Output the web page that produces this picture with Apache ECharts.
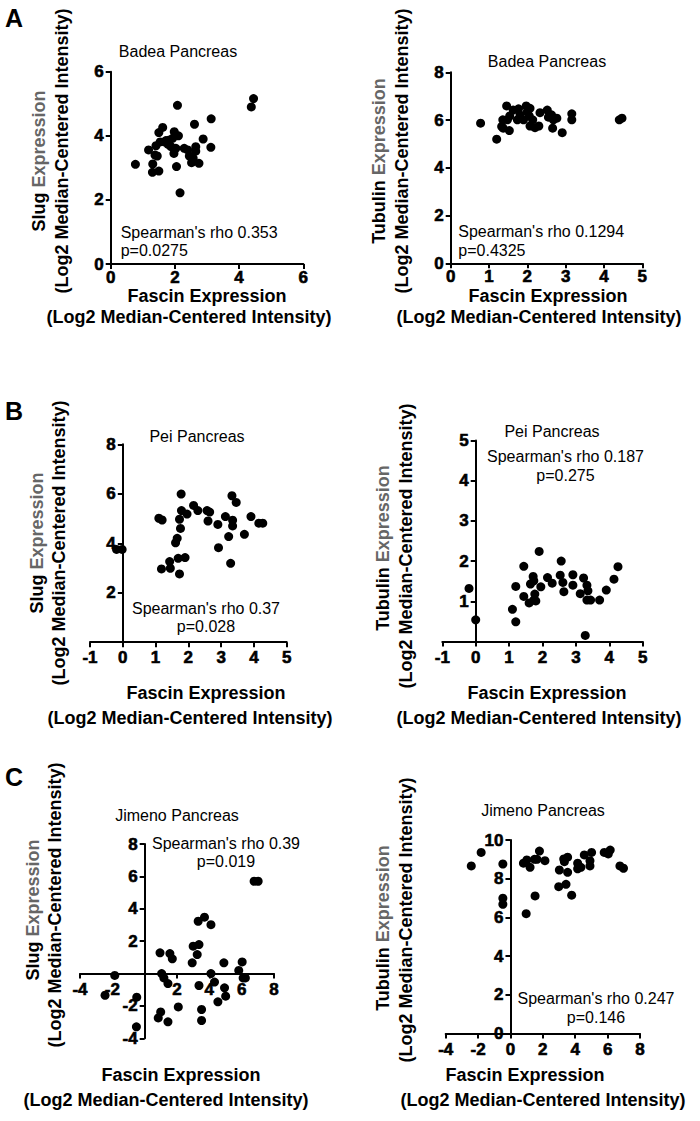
<!DOCTYPE html>
<html>
<head>
<meta charset="utf-8">
<script src="https://cdn.jsdelivr.net/npm/echarts@6/dist/echarts.min.js"></script>
<style>
html,body{margin:0;padding:0;background:#fff;}
#chart{width:700px;height:1121px;}
</style>
</head>
<body>
<div id="chart"></div>
<script>
// ---- data (Fascin expression, target expression) ----
const badeaSlug = [[0.77,3.11],[1.18,3.56],[1.31,3.12],[1.30,2.86],[1.38,3.40],[1.45,3.37],[1.41,3.69],[1.50,2.90],[1.50,4.10],[1.62,4.26],[1.54,3.81],[1.67,3.81],[1.72,3.85],[1.79,3.73],[1.83,3.87],[1.88,3.66],[1.93,3.92],[1.97,3.45],[1.98,4.13],[2.03,3.61],[2.05,3.04],[2.08,4.95],[2.11,4.00],[2.16,2.22],[2.29,3.61],[2.40,3.56],[2.45,3.37],[2.52,3.16],[2.57,3.30],[2.61,4.36],[2.65,3.66],[2.65,3.52],[2.75,3.14],[2.88,3.90],[3.13,4.53],[3.12,3.64],[4.38,4.90],[4.45,5.16]];
const badeaTubulin = [[0.78,5.87],[1.20,5.20],[1.33,5.73],[1.36,6.01],[1.37,5.66],[1.46,6.59],[1.48,6.01],[1.53,5.56],[1.54,6.17],[1.63,6.42],[1.77,6.47],[1.74,6.01],[1.81,6.22],[1.90,6.01],[1.97,6.59],[2.00,6.35],[2.05,6.17],[2.07,6.49],[2.07,5.75],[2.14,6.01],[2.20,5.68],[2.30,5.75],[2.33,6.31],[2.52,6.42],[2.55,6.12],[2.63,6.22],[2.68,6.01],[2.66,5.66],[2.77,6.08],[2.91,5.47],[3.16,6.26],[3.16,6.01],[4.40,6.01],[4.47,6.08]];
const peiSlug = [[-0.19,3.75],[-0.02,3.75],[1.10,5.01],[1.20,4.94],[1.18,2.96],[1.43,3.26],[1.45,2.99],[1.61,4.02],[1.66,4.20],[1.69,3.39],[1.73,2.76],[1.73,4.97],[1.76,4.60],[1.78,5.99],[1.79,5.32],[1.90,3.42],[1.96,5.18],[2.16,5.53],[2.29,5.32],[2.57,5.32],[2.65,5.26],[2.60,4.90],[2.90,4.76],[2.92,3.82],[3.13,5.08],[3.23,4.27],[3.29,3.19],[3.33,5.92],[3.35,4.93],[3.35,4.70],[3.46,5.65],[3.71,4.36],[3.91,5.08],[4.15,4.81],[4.27,4.81]];
const peiTubulin = [[-0.20,1.32],[0.0,0.54],[1.10,0.80],[1.20,0.49],[1.20,1.37],[1.44,1.87],[1.44,1.12],[1.60,0.96],[1.64,1.43],[1.72,1.62],[1.74,1.51],[1.74,1.03],[1.77,1.18],[1.80,1.01],[1.95,1.36],[1.90,2.24],[2.15,1.59],[2.29,1.45],[2.53,1.65],[2.56,2.00],[2.61,1.47],[2.64,1.24],[2.91,1.66],[2.91,1.40],[3.13,1.19],[3.23,1.58],[3.33,1.40],[3.36,1.26],[3.33,1.03],[3.44,1.03],[3.28,0.15],[3.71,1.03],[3.91,1.28],[4.14,1.55],[4.26,1.86]];
const jimenoSlug = [[-1.85,-0.12],[-2.45,-1.34],[-0.49,-1.46],[-0.51,-3.29],[0.95,1.28],[1.05,0.0],[1.19,-0.27],[1.44,-0.62],[0.84,-2.74],[0.99,-2.37],[1.44,-2.98],[1.56,1.23],[1.71,0.91],[2.08,-2.06],[2.94,0.66],[3.00,1.69],[3.25,1.17],[3.36,1.79],[3.31,3.23],[3.70,3.48],[4.10,3.02],[3.36,-0.74],[3.52,-2.22],[3.52,-2.90],[4.10,0.0],[4.32,-0.53],[4.53,-1.75],[4.90,0.66],[4.94,-0.88],[5.01,-1.40],[5.82,0.19],[6.03,0.72],[6.09,-0.27],[6.23,-0.27],[6.77,5.70],[7.02,5.70]];
const jimenoTubulin = [[-2.42,8.66],[-1.81,9.36],[-0.47,8.76],[-0.47,6.99],[-0.47,6.68],[0.80,8.80],[1.01,8.97],[0.97,6.19],[1.21,8.59],[1.48,9.00],[1.52,7.11],[1.64,9.00],[1.79,9.43],[2.13,8.93],[3.02,8.45],[2.98,7.59],[3.29,9.02],[3.33,8.88],[3.53,9.11],[3.43,7.71],[3.53,8.33],[3.78,7.15],[4.15,8.80],[4.15,8.51],[4.35,8.59],[4.56,9.23],[4.91,8.93],[4.91,8.66],[5.01,9.36],[5.79,9.36],[6.04,9.28],[6.16,9.48],[6.76,8.66],[6.98,8.54]];

// ---- axis ranges / ticks: [min, max, interval] ----
const xRanges = [[0,6,2],[0,5,1],[-1,5,1],[-1,5,1],[-4,8,2],[-4,8,2]];
const yRanges = [[0,6,2],[0,8,2],[0,8,2],[0,5,1],[-4,8,2],[0,10,2]];
const hideXZero = [false,false,false,false,true,false];
const hideYZero = [false,false,true,true,true,false];

// ---- texts ----
const panelTitles = ['Badea Pancreas','Badea Pancreas','Pei Pancreas','Pei Pancreas','Jimeno Pancreas','Jimeno Pancreas'];
const rhoTexts = ["Spearman's rho 0.353","Spearman's rho 0.1294","Spearman's rho 0.37","Spearman's rho 0.187","Spearman's rho 0.39","Spearman's rho 0.247"];
const pTexts = ['p=0.0275','p=0.4325','p=0.028','p=0.275','p=0.019','p=0.146'];
const yGenes = ['Slug','Tubulin','Slug','Tubulin','Slug','Tubulin'];
const panelLetters = ['A','B','C'];

const datasets = [badeaSlug,badeaTubulin,peiSlug,peiTubulin,jimenoSlug,jimenoTubulin];

// layout (pixels)
const grids = [
  {left:110.7, top:71.7, width:192.6, height:192.3},
  {left:450.7, top:72.3, width:191.6, height:191},
  {left:90, top:444.3, width:196.7, height:197.9},
  {left:442.3, top:440.5, width:200.4, height:201},
  {left:80, top:844, width:194, height:194.3},
  {left:445.7, top:840, width:194.3, height:193.5}
];
const xLabelMargin = [5,5,7,7,7,7];
const titlePos = [[178,51],[547,61.7],[197,436.7],[552,431.7],[177,815.7],[543,810.7]];
const statPos = [
  {x:120.7, y1:232, y2:250.7, align:'left'},
  {x:458.3, y1:231.7, y2:250, align:'left'},
  {x:206, y1:608.3, y2:626.7, align:'center'},
  {x:565.5, y1:456, y2:475, align:'center'},
  {x:226, y1:843.3, y2:861.7, align:'center'},
  {x:596, y1:998.3, y2:1017.7, align:'center'}
];
const xNamePos = [[207,296,189,317],[548,296,539,317],[206,693,190,718],[547,693,539,718],[181,1075,166,1100],[525,1075,543,1100]];
const yNamePos = [[39,161,62,151],[379,161,402,151],[37,543,59,543],[383,548,406,546],[33,910,55,905],[383,928,406,920]];
const letterPos = [[14,18],[14,411],[14,777]];

const FONT = 'Arial';
const chart = echarts.init(document.getElementById('chart'), null, {renderer:'svg', width:700, height:1121});

const labelStyle = {color:'#000', fontSize:17, fontWeight:'bold', fontFamily:FONT, textBorderColor:'#000', textBorderWidth:0.6, lineHeight:17};
const xAxes = [], yAxes = [], series = [], graphics = [];
datasets.forEach((d,i)=>{
  const g = grids[i];
  const [xmin,xmax,xint] = xRanges[i];
  const [ymin,ymax,yint] = yRanges[i];
  // axes cross at zero: shift each axis from the grid edge to the zero of the other axis
  const yAxisShift = (xmin < 0 && xmax > 0) ? -((0 - xmin) / (xmax - xmin)) * g.width : 0;
  const xAxisShift = (ymin < 0 && ymax > 0) ? -((0 - ymin) / (ymax - ymin)) * g.height : 0;
  const axisCommon = {
    type:'value',
    gridIndex:i,
    axisLine:{show:true,onZero:false,lineStyle:{color:'#000',width:2}},
    axisTick:{show:true,length:5,lineStyle:{color:'#000',width:2}},
    splitLine:{show:false},
  };
  xAxes.push(Object.assign({}, axisCommon, {
    min:xmin, max:xmax, interval:xint, offset:xAxisShift,
    axisLabel:Object.assign({margin:xLabelMargin[i], formatter:v=> (hideXZero[i] && v===0) ? '' : String(v)}, labelStyle)
  }));
  yAxes.push(Object.assign({}, axisCommon, {
    min:ymin, max:ymax, interval:yint, offset:yAxisShift,
    axisLabel:Object.assign({margin:7, formatter:v=> (hideYZero[i] && v===0) ? '' : String(v)}, labelStyle)
  }));
  series.push({
    type:'scatter', xAxisIndex:i, yAxisIndex:i, data:d,
    symbol:'circle', symbolSize:9, itemStyle:{color:'#000',opacity:1}, z:5, silent:true
  });
  graphics.push({type:'text', x:titlePos[i][0], y:titlePos[i][1], style:{text:panelTitles[i], font:'16px '+FONT, fill:'#000', textAlign:'center', textVerticalAlign:'middle'}});
  const s = statPos[i];
  graphics.push({type:'text', x:s.x, y:s.y1, style:{text:rhoTexts[i], font:'16px '+FONT, fill:'#000', textAlign:s.align, textVerticalAlign:'middle'}});
  graphics.push({type:'text', x:s.x, y:s.y2, style:{text:pTexts[i], font:'16px '+FONT, fill:'#000', textAlign:s.align, textVerticalAlign:'middle'}});
  const xn = xNamePos[i];
  graphics.push({type:'text', x:xn[0], y:xn[1], style:{text:'Fascin Expression', font:'bold 18px '+FONT, fill:'#000', textAlign:'center', textVerticalAlign:'middle'}});
  graphics.push({type:'text', x:xn[2], y:xn[3], style:{text:'(Log2 Median-Centered Intensity)', font:'bold 18px '+FONT, fill:'#000', textAlign:'center', textVerticalAlign:'middle'}});
  const yn = yNamePos[i];
  graphics.push({type:'text', x:yn[0], y:yn[1], rotation:Math.PI/2, style:{
    text:'{a|'+yGenes[i]+' }{b|Expression}', font:'bold 18px '+FONT, textAlign:'center', textVerticalAlign:'middle',
    rich:{a:{fill:'#000',font:'bold 18px '+FONT}, b:{fill:'#666666',font:'bold 18px '+FONT}}}});
  graphics.push({type:'text', x:yn[2], y:yn[3], rotation:Math.PI/2, style:{text:'(Log2 Median-Centered Intensity)', font:'bold 18px '+FONT, fill:'#000', textAlign:'center', textVerticalAlign:'middle'}});
});
panelLetters.forEach((L,k)=>{
  graphics.push({type:'text', x:letterPos[k][0], y:letterPos[k][1], style:{text:L, font:'bold 25px '+FONT, fill:'#000', textAlign:'center', textVerticalAlign:'middle'}});
});

chart.setOption({
  backgroundColor:'#fff',
  animation:false,
  grid: grids.map(g=>Object.assign({containLabel:false}, g)),
  xAxis:xAxes, yAxis:yAxes, series:series,
  graphic:{elements:graphics}
});
</script>
</body>
</html>
